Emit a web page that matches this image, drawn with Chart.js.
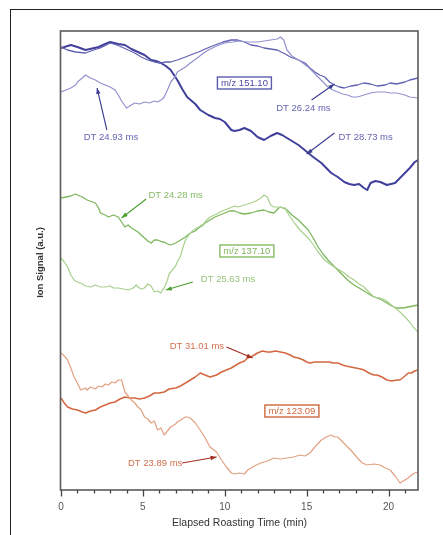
<!DOCTYPE html>
<html>
<head>
<meta charset="utf-8">
<script src="https://cdn.jsdelivr.net/npm/chart.js@4/dist/chart.umd.min.js"></script>
<style>
  html, body { margin: 0; padding: 0; background: #ffffff; overflow: hidden; }
  #wrap { position: relative; width: 443px; height: 535px; }
  #frame { position: absolute; left: 10px; top: 9px; width: 520px; height: 600px; border: 1px solid #222; box-sizing: border-box; }
  canvas { position: absolute; left: 0; top: 0; }
</style>
</head>
<body>
<div id="wrap">
  <div id="frame"></div>
  <canvas id="c" width="443" height="535"></canvas>
</div>
<script>
// Elapsed roasting time (min) and ion signal (a.u.) per drift-time trace

// m/z 151.10
const dt2873 = [[0,442],[0.6,445],[1.0,443],[1.5,440],[2.3,443],[2.7,446],[3.0,448],[3.5,446],[3.9,445],[4.3,441],[4.7,438],[5.1,435],[5.5,430],[5.8,429],[6.1,427],[6.4,424],[6.7,420],[7.1,410],[7.4,401],[7.7,393],[8.2,386],[8.5,380],[9.0,375],[9.4,372],[9.7,371],[10.0,368],[10.4,360],[10.6,359],[10.9,360],[11.2,362],[11.6,359],[12.0,353],[12.4,350],[12.8,354],[13.2,357],[13.5,355],[13.8,352],[14.1,349],[14.5,345],[14.8,341],[15.1,337],[15.4,333],[15.9,327],[16.2,322],[16.5,317],[16.9,313],[17.3,308],[17.6,306],[17.9,305],[18.2,306],[18.5,302],[18.7,300],[18.9,307],[19.2,309],[19.5,308],[19.9,305],[20.4,307],[20.7,312],[21.0,317],[21.3,322],[21.6,328],[21.8,330]];
const dt2624 = [[0,443],[0.4,440],[0.9,438],[1.5,437],[2.0,440],[2.4,442],[3.0,447],[3.4,445],[3.7,443],[4.1,440],[4.5,437],[4.9,433],[5.3,430],[5.7,428],[6.1,427],[6.4,428],[6.7,428],[7.1,430],[7.6,433],[7.9,435],[8.4,438],[8.8,441],[9.4,445],[9.9,448],[10.4,450],[10.8,450],[11.2,448],[11.6,445],[12.0,444],[12.4,442],[12.8,441],[13.2,440],[13.7,436],[14.0,433],[14.5,430],[14.9,427],[15.2,422],[15.5,418],[15.8,415],[16.1,413],[16.4,408],[16.7,405],[17.0,403],[17.3,402],[17.7,404],[18.1,405],[18.5,407],[18.9,406],[19.3,404],[19.8,405],[20.1,407],[20.5,406],[21.0,408],[21.3,410],[21.8,412]];
const dt2493 = [[0,398],[0.3,400],[0.6,402],[0.9,405],[1.0,408],[1.3,412],[1.5,415],[1.8,412],[2.1,410],[2.4,407],[2.7,405],[3.0,403],[3.3,400],[3.5,395],[3.7,389],[4.0,382],[4.2,384],[4.5,387],[4.8,386],[5.1,388],[5.4,387],[5.7,389],[5.9,388],[6.2,391],[6.3,393],[6.5,400],[6.7,408],[7.0,414],[7.1,418],[7.4,421],[7.6,423],[7.9,427],[8.4,433],[8.7,437],[9.0,440],[9.5,444],[10.0,447],[10.5,448],[10.9,449],[11.4,448],[12.0,448],[12.4,449],[12.8,450],[13.2,451],[13.4,453],[13.6,450],[13.8,440],[14.1,434],[14.3,432],[14.6,429],[15.1,423],[15.4,418],[15.7,413],[16.0,408],[16.3,403],[16.6,400],[16.9,398],[17.2,396],[17.5,395],[17.8,393],[18.1,393],[18.5,395],[18.9,397],[19.3,398],[19.8,398],[20.1,397],[20.5,397],[21.0,395],[21.3,393],[21.8,392]];

// m/z 137.10
const dt2428 = [[0,292],[0.3,293],[0.6,294],[0.9,296],[1.0,295],[1.3,293],[1.6,290],[2.1,287],[2.3,282],[2.4,277],[2.7,275],[2.9,273],[3.2,275],[3.5,273],[3.7,268],[3.9,263],[4.1,265],[4.3,262],[4.5,260],[4.7,258],[4.9,255],[5.1,252],[5.3,249],[5.5,247],[5.7,250],[5.9,250],[6.2,248],[6.3,248],[6.5,246],[6.7,245],[7.0,247],[7.1,248],[7.4,251],[7.6,253],[7.9,257],[8.2,259],[8.4,262],[8.6,264],[8.8,267],[9.1,270],[9.4,273],[9.7,275],[10.0,277],[10.3,279],[10.6,279],[10.9,277],[11.2,276],[11.6,277],[12.0,279],[12.4,280],[12.7,278],[13.0,277],[13.3,282],[13.4,283],[13.7,281],[13.8,280],[14.1,275],[14.5,270],[14.8,265],[15.1,260],[15.4,252],[15.7,243],[16.0,236],[16.3,230],[16.6,225],[16.9,220],[17.2,215],[17.5,210],[17.8,206],[18.1,203],[18.4,200],[18.7,197],[19.0,194],[19.3,192],[19.6,190],[19.9,187],[20.2,184],[20.5,182],[20.9,182],[21.2,183],[21.5,184],[21.8,185]];
const dt2563 = [[0,232],[0.2,228],[0.4,223],[0.6,215],[0.8,210],[1.0,208],[1.2,207],[1.5,204],[1.8,203],[2.1,205],[2.4,203],[2.7,203],[3.0,204],[3.2,202],[3.5,202],[3.8,201],[4.1,200],[4.4,202],[4.6,205],[4.7,203],[4.9,201],[5.1,202],[5.3,206],[5.5,204],[5.7,198],[5.9,199],[6.1,197],[6.2,200],[6.3,202],[6.5,210],[6.6,216],[6.8,220],[7.0,224],[7.1,228],[7.3,234],[7.4,240],[7.6,250],[7.9,257],[8.1,260],[8.4,263],[8.7,266],[8.9,270],[9.1,273],[9.5,276],[9.7,278],[10.0,280],[10.3,282],[10.6,284],[10.8,283],[11.2,285],[11.6,287],[11.9,289],[12.2,292],[12.4,295],[12.6,293],[12.8,285],[13.0,283],[13.2,283],[13.7,282],[13.8,278],[14.0,273],[14.3,266],[14.6,260],[14.9,255],[15.2,250],[15.5,243],[15.7,238],[15.9,234],[16.1,230],[16.4,226],[16.7,223],[17.0,220],[17.3,217],[17.6,213],[17.9,210],[18.2,206],[18.5,203],[18.8,198],[19.1,193],[19.5,192],[19.8,190],[20.1,186],[20.4,182],[20.7,178],[21.0,173],[21.3,168],[21.5,163],[21.8,158]];

// m/z 123.09
const dt3101 = [[0,92],[0.2,87],[0.4,83],[0.7,81],[1.0,80],[1.3,78],[1.5,77],[1.8,79],[2.1,80],[2.4,83],[2.7,85],[3.0,87],[3.3,88],[3.6,91],[3.9,93],[4.2,92],[4.5,92],[4.8,91],[5.1,92],[5.4,94],[5.7,97],[6.0,97],[6.3,98],[6.6,101],[7.0,102],[7.3,104],[7.6,107],[7.9,110],[8.2,113],[8.5,117],[8.8,115],[9.1,113],[9.5,115],[9.8,118],[10.1,120],[10.4,122],[10.7,125],[10.9,127],[11.2,129],[11.4,132],[11.7,134],[12.0,137],[12.3,139],[12.6,138],[12.8,138],[13.1,139],[13.4,138],[13.7,137],[14.0,135],[14.2,133],[14.5,132],[14.8,130],[15.0,128],[15.2,127],[15.5,128],[15.8,128],[16.1,128],[16.4,128],[16.6,127],[16.9,127],[17.2,125],[17.4,124],[17.7,123],[18.0,122],[18.3,121],[18.5,120],[18.8,117],[19.1,115],[19.3,115],[19.6,113],[19.9,110],[20.2,109],[20.5,110],[20.7,110],[21.0,114],[21.2,117],[21.4,117],[21.6,119],[21.8,120]];
const dt2389 = [[0,137],[0.2,134],[0.4,130],[0.6,122],[0.8,113],[1.0,107],[1.2,100],[1.5,102],[1.6,100],[1.8,103],[2.1,101],[2.3,104],[2.5,103],[2.7,106],[2.9,105],[3.1,108],[3.3,107],[3.5,110],[3.7,110],[3.8,104],[3.9,98],[4.1,94],[4.3,90],[4.5,87],[4.7,83],[4.9,80],[5.1,73],[5.3,71],[5.5,67],[5.7,69],[5.9,60],[6.1,62],[6.3,55],[6.5,59],[6.7,63],[7.0,66],[7.1,68],[7.4,71],[7.6,73],[7.7,73],[7.9,72],[8.2,67],[8.5,60],[8.8,52],[9.1,43],[9.5,38],[9.8,30],[10.1,23],[10.4,17],[10.6,16],[10.9,17],[11.2,16],[11.4,20],[11.8,24],[12.2,27],[12.6,29],[13.0,32],[13.4,31],[13.8,32],[14.2,33],[14.6,35],[14.9,34],[15.2,37],[15.5,43],[15.9,50],[16.2,53],[16.5,55],[16.7,53],[16.9,53],[17.2,48],[17.5,43],[17.8,38],[18.1,32],[18.4,27],[18.7,25],[19.1,26],[19.5,25],[19.8,22],[20.1,20],[20.4,14],[20.7,7],[21.0,10],[21.2,12],[21.4,15],[21.6,17],[21.8,18]];

const xMajorTicks = [0, 5, 10, 15, 20];
const xMinorTicks = [1, 2, 3, 4, 6, 7, 8, 9, 11, 12, 13, 14, 16, 17, 18, 19, 21];

const toPts = arr => arr.map(([x, y]) => ({ x, y }));

// Labels, boxes and pointer arrows, placed in data units
const notes = [
  { text: 'm/z 151.10', x: 11.2, y: 407, color: '#4a4aa2', box: '#5c5cae' },
  { text: 'DT 24.93 ms', x: 3.05, y: 353, color: '#6464b4', arrow: [2.8, 360, 2.2, 402], arrowColor: '#3c3c94' },
  { text: 'DT 26.24 ms', x: 14.8, y: 382, color: '#6464b4', arrow: [15.3, 390, 16.7, 406], arrowColor: '#3c3c94' },
  { text: 'DT 28.73 ms', x: 18.6, y: 353, color: '#6464b4', arrow: [16.7, 357, 15.0, 336], arrowColor: '#3c3c94' },
  { text: 'DT 24.28 ms', x: 7.0, y: 295, color: '#86bb66', arrow: [5.2, 291, 3.7, 272], arrowColor: '#4a9e2e' },
  { text: 'm/z 137.10', x: 11.35, y: 239, color: '#7fb55c', box: '#86bb66' },
  { text: 'DT 25.63 ms', x: 10.2, y: 211, color: '#96c47a', arrow: [8.05, 208, 6.4, 200], arrowColor: '#4a9e2e' },
  { text: 'DT 31.01 ms', x: 8.3, y: 144, color: '#d2704c', arrow: [10.1, 143, 11.7, 132], arrowColor: '#a02c1e' },
  { text: 'm/z 123.09', x: 14.1, y: 79, color: '#d0673e', box: '#d0673e' },
  { text: 'DT 23.89 ms', x: 5.75, y: 27, color: '#d2704c', arrow: [7.4, 27, 9.5, 33], arrowColor: '#a02c1e' }
];

const FONT = '"Liberation Sans", Arial, sans-serif';

const decor = {
  id: 'decor',
  afterDatasetsDraw(chart) {
    const { ctx, chartArea: a, scales: { x, y } } = chart;
    ctx.save();
    // plot frame
    ctx.strokeStyle = '#5a5a5a';
    ctx.lineWidth = 1.6;
    ctx.strokeRect(a.left - 0.5, a.top, a.right - a.left + 0.5, a.bottom - a.top);
    // tick marks
    ctx.strokeStyle = '#444';
    ctx.lineWidth = 1.3;
    const tick = (v, len) => {
      const px = Math.round(x.getPixelForValue(v)) + 0.5;
      ctx.beginPath();
      ctx.moveTo(px, a.bottom);
      ctx.lineTo(px, a.bottom + len);
      ctx.stroke();
    };
    xMajorTicks.forEach(v => tick(v, 6.5));
    xMinorTicks.forEach(v => tick(v, 3.5));
    // y axis title
    ctx.fillStyle = '#333';
    ctx.font = 'bold 9.5px ' + FONT;
    ctx.translate(40, (a.top + a.bottom) / 2 + 2);
    ctx.rotate(-Math.PI / 2);
    ctx.textAlign = 'center';
    ctx.textBaseline = 'middle';
    ctx.fillText('Ion Signal (a.u.)', 0, 0);
    ctx.restore();

    // annotations
    ctx.save();
    notes.forEach(n => {
      const cx = x.getPixelForValue(n.x), cy = y.getPixelForValue(n.y);
      ctx.font = '9.5px ' + FONT;
      if (n.box) {
        const w = ctx.measureText(n.text).width + 7;
        ctx.fillStyle = '#ffffff';
        ctx.fillRect(cx - w / 2, cy - 6, w, 12);
        ctx.strokeStyle = n.box;
        ctx.lineWidth = 1.4;
        ctx.strokeRect(cx - w / 2, cy - 6, w, 12);
      }
      ctx.fillStyle = n.color;
      ctx.textAlign = 'center';
      ctx.textBaseline = 'middle';
      ctx.fillText(n.text, cx, cy + 0.5);
      if (n.arrow) {
        const [x1, y1, x2, y2] = n.arrow;
        const p1x = x.getPixelForValue(x1), p1y = y.getPixelForValue(y1);
        const p2x = x.getPixelForValue(x2), p2y = y.getPixelForValue(y2);
        ctx.strokeStyle = n.arrowColor;
        ctx.fillStyle = n.arrowColor;
        ctx.lineWidth = 1.1;
        ctx.beginPath();
        ctx.moveTo(p1x, p1y);
        ctx.lineTo(p2x, p2y);
        ctx.stroke();
        const ang = Math.atan2(p2y - p1y, p2x - p1x);
        const L = 6, W = 2.2;
        ctx.beginPath();
        ctx.moveTo(p2x, p2y);
        ctx.lineTo(p2x - L * Math.cos(ang) + W * Math.sin(ang), p2y - L * Math.sin(ang) - W * Math.cos(ang));
        ctx.lineTo(p2x - L * Math.cos(ang) - W * Math.sin(ang), p2y - L * Math.sin(ang) + W * Math.cos(ang));
        ctx.closePath();
        ctx.fill();
      }
    });
    ctx.restore();
  }
};

const line = (label, arr, color, width) => ({
  label, data: toPts(arr), borderColor: color, borderWidth: width,
  pointRadius: 0, tension: 0, fill: false, borderJoinStyle: 'round'
});

new Chart(document.getElementById('c').getContext('2d'), {
  type: 'line',
  data: {
    datasets: [
      line('DT 23.89 ms', dt2389, '#e2a183', 1.2),
      line('DT 31.01 ms', dt3101, '#d3673f', 1.5),
      line('DT 25.63 ms', dt2563, '#a9d08e', 1.2),
      line('DT 24.28 ms', dt2428, '#7db75e', 1.3),
      line('DT 24.93 ms', dt2493, '#9292cf', 1.2),
      line('DT 26.24 ms', dt2624, '#6262b4', 1.3),
      line('DT 28.73 ms', dt2873, '#40409c', 2.0)
    ]
  },
  options: {
    responsive: false,
    animation: false,
    layout: { padding: { left: 61, right: 25, top: 31, bottom: 0 } },
    plugins: { legend: { display: false }, tooltip: { enabled: false } },
    scales: {
      x: {
        type: 'linear', min: 0, max: 21.8,
        afterFit(s) { s.height = 45; },
        afterBuildTicks(s) { s.ticks = xMajorTicks.map(v => ({ value: v })); },
        grid: { display: false, drawTicks: false },
        border: { display: false },
        ticks: { padding: 11, color: '#555', font: { family: FONT, size: 10 }, maxRotation: 0 },
        title: { display: true, text: 'Elapsed Roasting Time (min)', color: '#333', font: { family: FONT, size: 10.5 }, padding: { top: 0, bottom: 6 } }
      },
      y: { display: false, min: 0, max: 459 }
    }
  },
  plugins: [decor]
});
</script>
</body>
</html>
